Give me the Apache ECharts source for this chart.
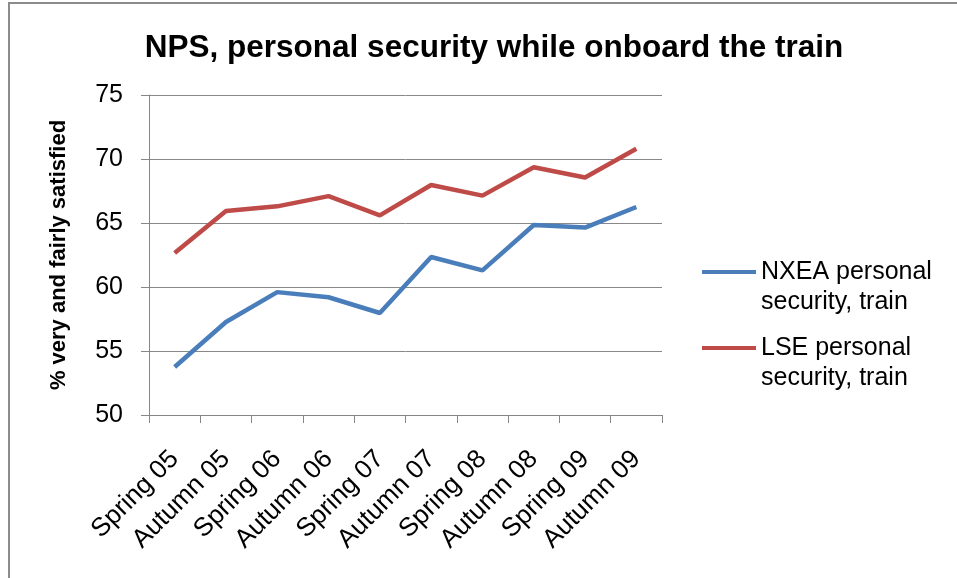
<!DOCTYPE html>
<html>
<head>
<meta charset="utf-8">
<script src="https://cdn.jsdelivr.net/npm/echarts@6/dist/echarts.min.js"></script>
<style>
html,body{margin:0;padding:0;background:#fff;}
#chart{width:957px;height:578px;}
</style>
</head>
<body>
<div id="chart"></div>
<script>
const categories = ['Spring 05','Autumn 05','Spring 06','Autumn 06','Spring 07','Autumn 07','Spring 08','Autumn 08','Spring 09','Autumn 09'];
const nxea = [53.75, 57.27, 59.6, 59.2, 57.97, 62.34, 61.3, 64.84, 64.64, 66.25];
const lse = [62.66, 65.94, 66.3, 67.1, 65.6, 67.97, 67.14, 69.35, 68.55, 70.8];
const nxeaName = 'NXEA personal\nsecurity, train';
const lseName = 'LSE personal\nsecurity, train';
const yTicks = [50, 55, 60, 65, 70, 75];

const FONT = "'Liberation Sans', Arial, sans-serif";
const chart = echarts.init(document.getElementById('chart'));
const legendText = {fontFamily: FONT, fontSize: 25, color: '#000', lineHeight: 30};
const legendFmt = function (name) { return '\n' + name; };
chart.setOption({
  animation: false,
  backgroundColor: '#fff',
  title: {
    text: 'NPS, personal security while onboard the train',
    left: 489, top: 27, textAlign: 'center',
    textStyle: {fontFamily: FONT, fontSize: 31.5, fontWeight: 'bold', color: '#000'}
  },
  graphic: [{
    type: 'rect', shape: {x: 9, y: 3, width: 1000, height: 700},
    style: {fill: 'none', stroke: '#8c8c8c', lineWidth: 2}, silent: true
  }],
  legend: [{
    orient: 'vertical', left: 702, top: 227, padding: 0,
    itemWidth: 54, itemHeight: 4, itemGap: 5,
    data: [{name: nxeaName, icon: 'rect'}],
    formatter: legendFmt,
    textStyle: legendText
  }, {
    orient: 'vertical', left: 702, top: 303, padding: 0,
    itemWidth: 54, itemHeight: 4, itemGap: 5,
    data: [{name: lseName, icon: 'rect'}],
    formatter: legendFmt,
    textStyle: legendText
  }],
  grid: {left: 149, right: 295, top: 95, bottom: 163, containLabel: false},
  xAxis: {
    type: 'category', data: categories, boundaryGap: true,
    axisLine: {lineStyle: {color: '#868686', width: 1}},
    axisTick: {show: true, length: 8, alignWithLabel: false, lineStyle: {color: '#868686'}},
    axisLabel: {rotate: 45, margin: 40, interval: 0, fontFamily: FONT, fontSize: 26, color: '#000'},
    splitLine: {show: false}
  },
  yAxis: {
    type: 'value', min: yTicks[0], max: yTicks[yTicks.length - 1], interval: 5,
    name: '% very and fairly satisfied', nameLocation: 'middle', nameGap: 79, nameRotate: 90,
    nameTextStyle: {fontFamily: FONT, fontSize: 22, fontWeight: 'bold', color: '#000'},
    axisLine: {show: true, lineStyle: {color: '#868686', width: 1}},
    axisTick: {show: true, length: 8, inside: false, lineStyle: {color: '#868686'}},
    axisLabel: {margin: 26, fontFamily: FONT, fontSize: 25, color: '#000'},
    splitLine: {show: true, lineStyle: {color: '#888888', width: 1}}
  },
  series: [{
    name: nxeaName, type: 'line', data: nxea, symbol: 'none',
    lineStyle: {color: '#4a7ebb', width: 4.5}, itemStyle: {color: '#4a7ebb'}
  }, {
    name: lseName, type: 'line', data: lse, symbol: 'none',
    lineStyle: {color: '#be4b48', width: 4.5}, itemStyle: {color: '#be4b48'}
  }]
});
</script>
</body>
</html>
